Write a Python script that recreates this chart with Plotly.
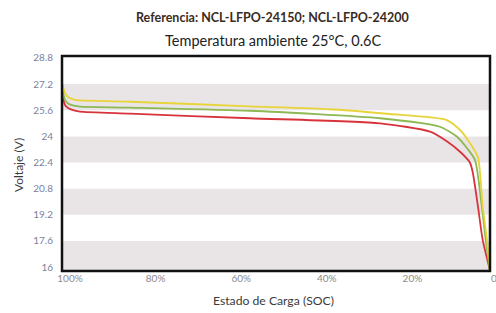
import plotly.graph_objects as go

# SOC (%) and voltage (V)
soc_yellow = [100, 99.3, 98.5, 97.0, 95.8, 84.1, 56.1, 37.4, 23.4, 10.1, 7.0, 4.7, 2.8, 1.7, 0.7, 0]
v_yellow   = [27.27, 26.66, 26.39, 26.23, 26.2, 26.12, 25.84, 25.66, 25.37, 25.0, 24.39, 23.59, 22.7, 19.68, 17.65, 15.8]

soc_green = [100, 99.3, 98.5, 97.0, 95.8, 84.1, 56.1, 25.7, 11.7, 7.7, 5.4, 3.5, 1.9, 1.0, 0]
v_green   = [27.02, 26.23, 26.0, 25.86, 25.82, 25.76, 25.57, 25.11, 24.59, 23.98, 23.29, 22.55, 19.68, 17.65, 15.8]

soc_red = [100, 99.3, 98.5, 97.0, 95.8, 84.1, 56.1, 25.7, 14.0, 10.1, 7.0, 4.7, 4.0, 2.8, 1.7, 0]
v_red   = [26.66, 25.92, 25.72, 25.57, 25.51, 25.39, 25.11, 24.8, 24.29, 23.7, 23.06, 22.4, 21.76, 19.68, 17.65, 15.8]

y_ticks = [16, 17.6, 19.2, 20.8, 22.4, 24, 25.6, 27.2, 28.8]
x_ticks = [100, 80, 60, 40, 20, 0]
x_ticktext = ["100%", "80%", "60%", "40%", "20%", "0%"]
bands = [(15.7, 17.6), (19.2, 20.8), (22.4, 24.0), (25.6, 27.2)]

FONT = "Lato"
fig = go.Figure()
for xs, ys, col in [(soc_red, v_red, "#D8333D"), (soc_green, v_green, "#8DB853"),
                    (soc_yellow, v_yellow, "#E8D43A")]:
    fig.add_trace(go.Scatter(x=xs, y=ys, mode="lines",
                             line=dict(color=col, width=1.8, shape="spline", smoothing=0.6),
                             hoverinfo="skip", showlegend=False))

shapes = []
for lo, hi in bands:
    shapes.append(dict(type="rect", xref="paper", yref="y", x0=0, x1=1, y0=lo, y1=hi,
                       fillcolor="#E9E5E6", line=dict(width=0), layer="below"))
shapes.append(dict(type="rect", xref="paper", yref="paper", x0=0, x1=1, y0=0, y1=1,
                   line=dict(color="#111111", width=2.5), layer="above"))

def ann(text, x, y, size, color, angle=0):
    return dict(text=text, xref="paper", yref="paper", x=x, y=y, xanchor="center",
                yanchor="middle", showarrow=False, textangle=angle,
                font=dict(size=size, color=color))

fig.update_layout(
    width=496, height=313,
    margin=dict(l=62, r=6, t=56, b=42, autoexpand=False),
    plot_bgcolor="white", paper_bgcolor="white",
    font=dict(family=FONT),
    shapes=shapes,
    xaxis=dict(range=[100, 0], tickvals=x_ticks, ticktext=x_ticktext, showgrid=False,
               zeroline=False, showline=False, ticks="", ticklabeloverflow="allow",
               automargin=False,
               tickfont=dict(size=10, color="#8E8A8A"), ticklabelshift=-8),
    yaxis=dict(range=[15.76, 28.92], tickvals=y_ticks, showgrid=False, zeroline=False,
               showline=False, ticks="", tickformat=".1~f", ticklabelstandoff=8,
               automargin=False,
               tickfont=dict(size=10, color="#7C7F9B")),
    annotations=[
        ann("<b>Referencia: NCL-LFPO-24150; NCL-LFPO-24200</b>", 0.491, 1.181, 12.5, "#3A2B22"),
        ann("Temperatura ambiente 25°C, 0.6C", 0.493, 1.074, 14.5, "#222222"),
        ann("Estado de Carga (SOC)", 0.493, -0.135, 12.2, "#3A3A3A"),
        ann("Voltaje (V)", -0.1028, 0.493, 12, "#3A3A3A", -90),
    ],
)
fig.write_html("out.html", config={"displayModeBar": False},
               post_script="document.body.style.margin='0';")
